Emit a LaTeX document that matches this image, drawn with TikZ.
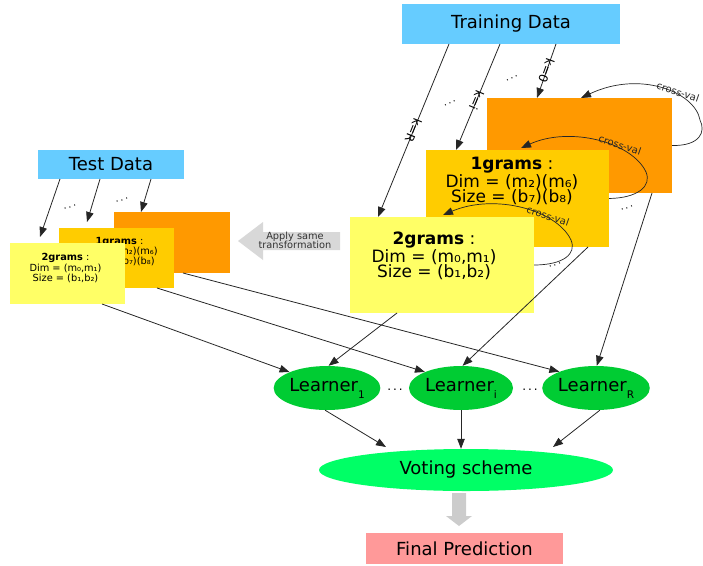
\documentclass[tikz,border=0pt]{standalone}
\usepackage{fontspec}
\setmainfont{DejaVu Sans}
\usetikzlibrary{arrows.meta,shapes.geometric}
\definecolor{dataBlue}{HTML}{66CCFF}
\definecolor{orangeA}{HTML}{FF9900}
\definecolor{goldA}{HTML}{FFCC00}
\definecolor{yelA}{HTML}{FFFF66}
\definecolor{learnG}{HTML}{00CC33}
\definecolor{voteG}{HTML}{00FF66}
\definecolor{finalR}{HTML}{FF9999}
\definecolor{grayA}{HTML}{CCCCCC}
\definecolor{grayB}{HTML}{D8D8D8}
\newcommand\myfs[2]{\fontsize{#1}{#2}\selectfont}
\newcommand\lsub[1]{\raisebox{-7pt}{\myfs{10.5}{10.5}#1}}
\begin{document}
\begin{tikzpicture}[x=1pt,y=-1pt,
  conn/.style={draw=black!85, line width=0.8pt, -{Triangle[length=10pt,width=7.5pt]}},
  arcline/.style={draw=black!85, line width=0.7pt, -{Triangle[length=10pt,width=7.5pt]}},
  boxs/.style={rectangle, inner sep=0pt, outer sep=0pt},
  klab/.style={font=\myfs{12}{12}, inner sep=0pt},
  cvlab/.style={font=\myfs{10}{10}, inner sep=0pt, text=black!85},
  dotsA/.style={font=\myfs{10}{10}, inner sep=0pt},
  learner/.style={ellipse, fill=learnG, inner sep=0pt, minimum width=104pt, minimum height=44pt, font=\myfs{18}{20}}
]
\useasboundingbox (0,0) rectangle (703,565);

% ---------- training side ----------
\node[boxs, fill=dataBlue, minimum width=218pt, minimum height=40pt, font=\myfs{18}{20}] (train) at (511,24) {Training Data};

\node[boxs, fill=orangeA, minimum width=185pt, minimum height=95pt] (tr0) at (579.5,145.5) {};
\draw[arcline] (tr0.east) .. controls (700,146) and (706,132) .. (700,120)
   .. controls (695,92) and (640,70) .. ([xshift=94pt]tr0.north west);
\node[cvlab, rotate=-19] (cv1) at (678,92) {cross-val};

\node[boxs, fill=goldA, minimum width=183pt, minimum height=97pt] (tr1) at (517.5,198.5) {};
\node[font=\myfs{17}{15.5}, align=center, inner sep=0pt] (tr1t) at (512,181) {\textbf{1grams} :\\Dim = (m₂)(m₆)\\Size = (b₇)(b₈)};
\draw[arcline] (tr1.east) .. controls (638,198) and (652,186) .. (646,172)
   .. controls (632,142) and (570,126) .. ([xshift=95pt,yshift=2pt]tr1.north west);
\node[cvlab, rotate=-19] (cv2) at (620,145) {cross-val};

\node[boxs, fill=yelA, minimum width=184pt, minimum height=96pt] (tr2) at (442,265) {};
\node[font=\myfs{17}{15.5}, align=center, inner sep=0pt] (tr2t) at (434,256) {\textbf{2grams} :\\Dim = (m₀,m₁)\\Size = (b₁,b₂)};
\draw[arcline] (tr2.east) .. controls (563,265) and (577,254) .. (571,240)
   .. controls (557,210) and (495,193) .. ([xshift=93pt,yshift=2pt]tr2.north west);
\node[cvlab, rotate=-19] (cv3) at (548,216) {cross-val};

\node[dotsA, rotate=20] (d1) at (627,208) {.\,.\,.};
\node[dotsA, rotate=20] (d2) at (555,265) {.\,.\,.};

\draw[conn] ([xshift=45pt]train.south) -- node[klab, pos=0.5, rotate=-110] {k=0} ([xshift=50pt]tr0.north west);
\draw[conn] ([xshift=-11pt]train.south) -- node[klab, pos=0.53, rotate=-113] {k=i} ([xshift=30pt]tr1.north west);
\draw[conn] ([xshift=-62pt]train.south) -- node[klab, pos=0.5, rotate=-112] {k=R} ([xshift=28pt]tr2.north west);
\node[dotsA, rotate=25] (d3) at (512,78) {.\,.\,.};
\node[dotsA, rotate=25] (d4) at (450,103) {.\,.\,.};

% ---------- test side ----------
\node[boxs, fill=dataBlue, minimum width=146pt, minimum height=29pt, font=\myfs{18}{20}] (test) at (111,164.5) {Test Data};
\node[boxs, fill=orangeA, minimum width=116pt, minimum height=61pt] (te0) at (172,242.5) {};
\node[boxs, fill=goldA, minimum width=115pt, minimum height=60pt] (te1) at (116.5,258) {};
\node[font=\myfs{9.8}{8.6}, align=center, inner sep=0pt] (te1t) at (119.5,251.5) {\textbf{1grams} :\\Dim = (m₂)(m₆)\\Size = (b₇)(b₈)};
\node[boxs, fill=yelA, minimum width=115pt, minimum height=61pt] (te2) at (67.5,273.5) {};
\node[font=\myfs{9.8}{8.6}, align=center, inner sep=0pt] (te2t) at (65.5,268) {\textbf{2grams} :\\Dim = (m₀,m₁)\\Size = (b₁,b₂)};

\draw[conn] ([xshift=40pt]test.south) -- ([xshift=27pt]te0.north west);
\draw[conn] ([xshift=-11pt]test.south) -- ([xshift=28pt,yshift=6pt]te1.north west);
\draw[conn] ([xshift=-51pt]test.south) -- ([xshift=30pt,yshift=6pt]te2.north west);
\node[dotsA, rotate=15] (d5) at (70,207) {.\,.\,.};
\node[dotsA, rotate=15] (d6) at (122,200) {.\,.\,.};

% apply same transformation arrow
\fill[grayB] (238,241) -- (263,222) -- (263,232) -- (340,232) -- (340,250) -- (263,250) -- (263,260) -- cycle;
\node[font=\myfs{9.8}{9.5}, align=center, text=black!80, inner sep=0pt] (apply) at (295,240.5) {Apply same\\transformation};

% ---------- learners ----------
\node[learner] (L1) at (327,388) {Learner\lsub{1}};
\node[learner] (Li) at (461,388) {Learner\lsub{i}};
\node[learner] (LR) at (596,388) {Learner\lsub{R}};
\node[font=\myfs{12}{12}, inner sep=0pt] (d7) at (395,390) {.\,.\,.};
\node[font=\myfs{12}{12}, inner sep=0pt] (d8) at (530,390) {.\,.\,.};

\draw[conn] ([xshift=92pt]te2.south west) -- (L1.157);
\draw[conn] ([xshift=47pt]tr2.south west) -- (L1.86);
\draw[conn] ([xshift=98pt]te1.south west) -- (Li.156);
\draw[conn] ([xshift=162pt]tr1.south west) -- (Li.86);
\draw[conn] ([xshift=69pt]te0.south west) -- (LR.156);
\draw[conn] ([xshift=165pt]tr0.south west) -- (LR.88);

% ---------- voting ----------
\node[ellipse, fill=voteG, inner sep=0pt, minimum width=294pt, minimum height=42pt, font=\myfs{18}{20}] (vote) at (466,470) {Voting scheme};
\draw[conn] (L1.265) -- ([xshift=-80pt,yshift=23pt]vote.center);
\draw[conn] (Li.south) -- (Li.south |- vote.north);
\draw[conn] (LR.280) -- ([xshift=87pt,yshift=23pt]vote.center);

\fill[grayA] (452,493) -- (466,493) -- (466,516) -- (472,516) -- (459,526) -- (446,516) -- (452,516) -- cycle;

\node[boxs, fill=finalR, minimum width=197pt, minimum height=31pt, font=\myfs{18}{20}] (final) at (464.5,548.5) {Final Prediction};
\end{tikzpicture}
\end{document}
